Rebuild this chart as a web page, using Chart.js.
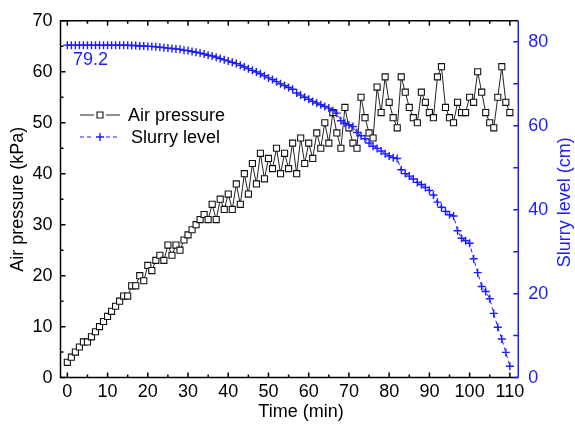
<!DOCTYPE html>
<html>
<head>
<meta charset="utf-8">
<script src="https://cdn.jsdelivr.net/npm/chart.js@4.4.0/dist/chart.umd.min.js"></script>
<style>
  body { margin: 0; background: #fff; }
  #pressureChart { display: block; }
</style>
</head>
<body>
<canvas id="pressureChart" width="575" height="426"></canvas>
<script>
// Air pressure and slurry level against time, one reading per minute

const time_min = [
  0, 1, 2, 3, 4, 5, 6, 7, 8, 9, 10, 11, 12, 13, 14, 15, 16, 17, 18, 19,
  20, 21, 22, 23, 24, 25, 26, 27, 28, 29, 30, 31, 32, 33, 34, 35, 36, 37, 38, 39,
  40, 41, 42, 43, 44, 45, 46, 47, 48, 49, 50, 51, 52, 53, 54, 55, 56, 57, 58, 59,
  60, 61, 62, 63, 64, 65, 66, 67, 68, 69, 70, 71, 72, 73, 74, 75, 76, 77, 78, 79,
  80, 81, 82, 83, 84, 85, 86, 87, 88, 89, 90, 91, 92, 93, 94, 95, 96, 97, 98, 99,
  100, 101, 102, 103, 104, 105, 106, 107, 108, 109, 110
]

const air_pressure_kpa = [
  3, 4, 5, 6, 7, 7, 8, 9, 10, 11, 12, 13, 14, 15, 16, 16, 18, 18, 20, 19,
  22, 21, 23, 24, 23, 26, 24, 26, 25, 27, 28, 29, 30, 31, 32, 31, 34, 31, 35, 33,
  36, 33, 38, 34, 40, 36, 42, 38, 44, 39, 43, 41, 45, 40, 44, 41, 46, 40, 47, 42,
  46, 43, 48, 45, 50, 46, 52, 48, 45, 53, 49, 46, 45, 55, 51, 48, 47, 57, 52, 59,
  54, 51, 49, 59, 56, 53, 51, 50, 56, 54, 52, 51, 59, 61, 53, 51, 50, 54, 52, 52,
  55, 54, 60, 56, 52, 50, 49, 55, 61, 54, 52
]

const slurry_level_cm = [
  79.2, 79.2, 79.2, 79.2, 79.2, 79.2, 79.2, 79.2, 79.2, 79.2, 79.2, 79.2, 79.2, 79.2, 79.2, 79.2, 79.1, 79.1, 79.0, 79.0,
  78.9, 78.9, 78.8, 78.7, 78.6, 78.5, 78.4, 78.3, 78.2, 78.0, 77.9, 77.7, 77.5, 77.3, 77.1, 76.8, 76.6, 76.3, 76.0, 75.7,
  75.4, 75.1, 74.8, 74.4, 74.0, 73.6, 73.2, 72.8, 72.4, 71.9, 71.4, 71.0, 70.5, 70.0, 69.6, 69.1, 68.7, 67.8, 67.3, 66.8,
  66.3, 65.8, 65.4, 65.0, 64.6, 64.2, 63.6, 63.0, 61.2, 60.6, 60.2, 59.8, 58.4, 57.6, 56.9, 55.9, 55.1, 54.6, 54.0, 53.3,
  52.8, 52.4, 52.2, 49.5, 48.6, 48.0, 47.3, 46.5, 46.0, 45.3, 44.6, 43.5, 41.8, 40.6, 39.6, 38.8, 38.5, 35.0, 33.2, 32.6,
  32.0, 28.3, 25.0, 21.7, 20.5, 18.8, 15.3, 12.0, 9.2, 6.0, 2.7
]

const x_tick_labels = [0, 10, 20, 30, 40, 50, 60, 70, 80, 90, 100, 110]
const left_tick_labels = [0, 10, 20, 30, 40, 50, 60, 70]
const right_tick_labels = [0, 20, 40, 60, 80]
const start_level_label = '79.2'

const blue = '#1c1cff'
const font_family = "'Liberation Sans', Arial, Helvetica, sans-serif"

Chart.defaults.font.family = font_family
Chart.defaults.font.size = 18
Chart.defaults.color = '#000'

// frame, inward tick marks, titles, legend and the 79.2 note
const frame_plugin = {
  id: 'frame',
  afterDraw(chart) {
    const ctx = chart.ctx
    const area = chart.chartArea
    const x = chart.scales.x
    const y = chart.scales.y
    const y2 = chart.scales.y2

    ctx.save()
    ctx.lineWidth = 1.5
    ctx.strokeStyle = '#000'
    ctx.beginPath()
    ctx.moveTo(area.right, area.top)
    ctx.lineTo(area.left, area.top)
    ctx.lineTo(area.left, area.bottom)
    ctx.lineTo(area.right, area.bottom)
    ctx.stroke()

    // x ticks, bottom and top
    ctx.beginPath()
    for (let v = 0; v <= 110; v += 5) {
      const px = x.getPixelForValue(v)
      const len = v % 10 === 0 ? 5 : 3
      ctx.moveTo(px, area.bottom)
      ctx.lineTo(px, area.bottom - len)
      ctx.moveTo(px, area.top)
      ctx.lineTo(px, area.top + len)
    }
    // left ticks
    for (let v = 0; v <= 70; v += 5) {
      const py = y.getPixelForValue(v)
      const len = v % 10 === 0 ? 5 : 3
      ctx.moveTo(area.left, py)
      ctx.lineTo(area.left + len, py)
    }
    ctx.stroke()

    // right axis in blue
    ctx.strokeStyle = blue
    ctx.beginPath()
    ctx.moveTo(area.right, area.top)
    ctx.lineTo(area.right, area.bottom)
    for (let v = 0; v <= 80; v += 10) {
      const py = y2.getPixelForValue(v)
      ctx.moveTo(area.right, py)
      ctx.lineTo(area.right - 5, py)
    }
    ctx.stroke()

    // x title
    ctx.fillStyle = '#000'
    ctx.font = '18px ' + font_family
    ctx.textAlign = 'center'
    ctx.textBaseline = 'middle'
    ctx.fillText('Time (min)', 301, 412)

    // right title reads bottom to top
    ctx.fillStyle = blue
    ctx.translate(565, (area.top + area.bottom) / 2 + 3)
    ctx.rotate(-Math.PI / 2)
    ctx.fillText('Slurry level (cm)', 0, 0)
    ctx.restore()

    // start level note
    ctx.save()
    ctx.fillStyle = blue
    ctx.font = '18px ' + font_family
    ctx.textAlign = 'left'
    ctx.textBaseline = 'alphabetic'
    ctx.fillText(start_level_label, x.getPixelForValue(1.4), y2.getPixelForValue(slurry_level_cm[0]) + 20)
    ctx.restore()

    // legend
    const rows = [
      { ds: chart.data.datasets[0], line_y: 115, text_y: 120.5, text_x: 128 },
      { ds: chart.data.datasets[1], line_y: 137, text_y: 142.5, text_x: 131 }
    ]
    ctx.save()
    rows.forEach(row => {
      ctx.strokeStyle = row.ds.borderColor
      ctx.lineWidth = 1
      ctx.setLineDash(row.ds.borderDash || [])
      ctx.beginPath()
      ctx.moveTo(80, row.line_y)
      ctx.lineTo(94, row.line_y)
      ctx.moveTo(106, row.line_y)
      ctx.lineTo(120, row.line_y)
      ctx.stroke()
      ctx.setLineDash([])
      ctx.strokeStyle = row.ds.pointBorderColor
      ctx.fillStyle = row.ds.pointBackgroundColor
      ctx.lineWidth = row.ds.pointBorderWidth
      ctx.beginPath()
      if (row.ds.pointStyle === 'rect') {
        ctx.rect(97, row.line_y - 3, 6, 6)
        ctx.fill()
        ctx.stroke()
      } else {
        ctx.moveTo(96, row.line_y)
        ctx.lineTo(104, row.line_y)
        ctx.moveTo(100, row.line_y - 4)
        ctx.lineTo(100, row.line_y + 4)
        ctx.stroke()
      }
      ctx.fillStyle = '#000'
      ctx.font = '18px ' + font_family
      ctx.textAlign = 'left'
      ctx.textBaseline = 'alphabetic'
      ctx.fillText(row.ds.label, row.text_x, row.text_y)
    })
    ctx.restore()
  }
}

let chart

function init_pressure_chart() {
  if (chart) {
    chart.destroy()
  }

  const air_points = time_min.map((t, i) => ({ x: t, y: air_pressure_kpa[i] }))
  const slurry_points = time_min.map((t, i) => ({ x: t, y: slurry_level_cm[i] }))

  const ctx = document.getElementById('pressureChart').getContext('2d')

  chart = new Chart(ctx, {
    type: 'line',
    data: {
      datasets: [
        {
          label: 'Air pressure',
          data: air_points,
          yAxisID: 'y',
          order: 2,
          borderColor: '#222',
          borderWidth: 1,
          pointStyle: 'rect',
          pointRadius: 4.3,
          pointBorderWidth: 1.1,
          pointBorderColor: '#111',
          pointBackgroundColor: '#fff',
          tension: 0
        },
        {
          label: 'Slurry level',
          data: slurry_points,
          yAxisID: 'y2',
          order: 1,
          borderColor: blue,
          borderWidth: 1,
          borderDash: [4, 3],
          pointStyle: 'cross',
          pointRadius: 4,
          pointBorderWidth: 1.4,
          pointBorderColor: blue,
          pointBackgroundColor: blue,
          tension: 0
        }
      ]
    },
    options: {
      responsive: false,
      animation: false,
      layout: {
        padding: { top: 16.5, left: 0, right: 0, bottom: 0 }
      },
      plugins: {
        legend: { display: false },
        tooltip: { enabled: false }
      },
      scales: {
        x: {
          type: 'linear',
          min: -1.7,
          max: 112.1,
          grid: { display: false, drawTicks: false },
          border: { display: false },
          afterBuildTicks: scale => {
            scale.ticks = x_tick_labels.map(v => ({ value: v }))
          },
          afterFit: scale => { scale.height = 48.4 },
          ticks: { padding: 4, maxRotation: 0, autoSkip: false }
        },
        y: {
          position: 'left',
          min: 0,
          max: 70,
          grid: { display: false, drawTicks: false },
          border: { display: false },
          afterBuildTicks: scale => {
            scale.ticks = left_tick_labels.map(v => ({ value: v }))
          },
          afterFit: scale => { scale.width = 60.5 },
          ticks: { padding: 8 },
          title: {
            display: true,
            text: 'Air pressure (kPa)',
            padding: { top: 7, bottom: 0 }
          }
        },
        y2: {
          position: 'right',
          min: 0,
          max: 85,
          grid: { display: false, drawTicks: false },
          border: { display: false },
          afterBuildTicks: scale => {
            scale.ticks = right_tick_labels.map(v => ({ value: v }))
          },
          afterFit: scale => { scale.width = 56.7 },
          ticks: { padding: 10, color: blue }
        }
      }
    },
    plugins: [frame_plugin]
  })
}

init_pressure_chart()
</script>
</body>
</html>
